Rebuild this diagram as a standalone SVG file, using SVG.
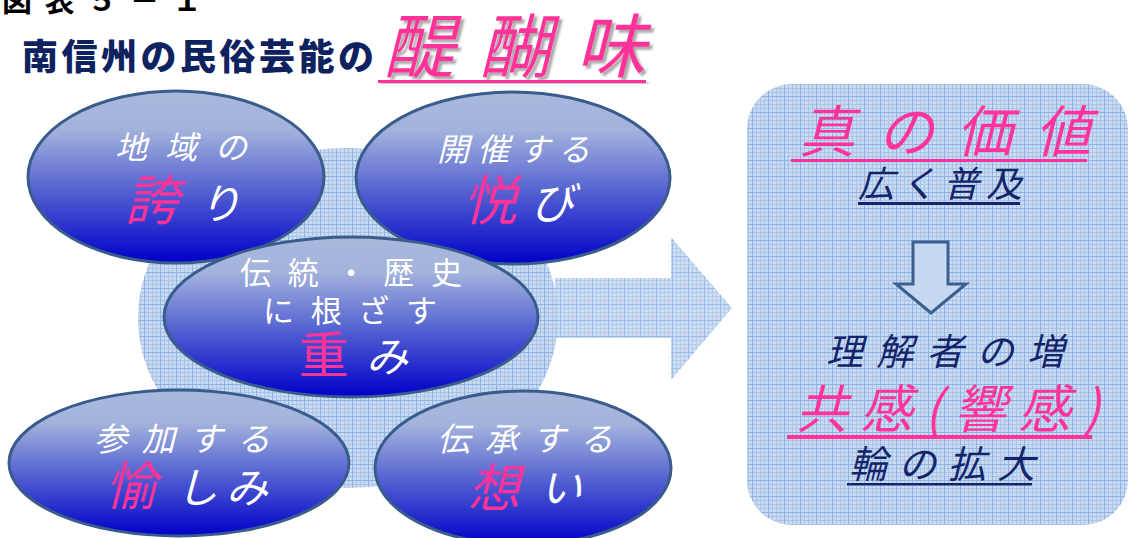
<svg xmlns="http://www.w3.org/2000/svg" width="1128" height="538" viewBox="0 0 1128 538">
<defs>
<pattern id="grid" width="16" height="16" patternUnits="userSpaceOnUse">
<rect width="16" height="16" fill="#c9dbf2"/>
<path d="M0 4.5H16M0 8.5H16M0 12.5H16M4.5 0V16M8.5 0V16M12.5 0V16" stroke="#a9c4e9" stroke-width="1"/>
<path d="M0 0.5H16M0.5 0V16" stroke="#90b2e1" stroke-width="1"/>
</pattern>
<linearGradient id="ovalGrad" x1="0" y1="0" x2="0" y2="1">
<stop offset="0" stop-color="#a9b9dc"/>
<stop offset="0.22" stop-color="#a3b3dc"/>
<stop offset="0.55" stop-color="#5a68d2"/>
<stop offset="1" stop-color="#0000c8"/>
</linearGradient>
<filter id="shadow" x="-10%" y="-20%" width="130%" height="150%">
<feDropShadow dx="3" dy="3" stdDeviation="1.2" flood-color="#555" flood-opacity="0.5"/>
</filter>
<style>
.oval{fill:url(#ovalGrad);stroke:#3a5c8c;stroke-width:3}
.jp{font-family:"Noto Sans CJK JP","Noto Sans CJK SC",sans-serif}
.wt{fill:#ffffff}
.pk{fill:#ff3399}
.nv{fill:#14246a}
.it{font-style:italic}
.pat{fill:url(#grid)}
</style>
</defs>

<g id="header">
<text class="jp" x="2" y="11" font-size="30" font-weight="700" fill="#000" textLength="200" lengthAdjust="spacing">図表５－１</text>
</g>

<g id="title">
<text class="jp" x="22" y="70" font-size="36" font-weight="900" fill="#0e2260" stroke="#ffffff" stroke-width="1.5" paint-order="stroke" textLength="352" lengthAdjust="spacing">南信州の民俗芸能の</text>
<text class="jp it pk" x="384" y="72" font-size="70" filter="url(#shadow)" textLength="262" lengthAdjust="spacing">醍醐味</text>
<rect x="378" y="80" width="268" height="3" fill="#ff3399" filter="url(#shadow)"/>
</g>

<g id="background-circle">
<ellipse class="pat" cx="348" cy="318" rx="210" ry="170"/>
</g>

<g id="node-pride">
<ellipse class="oval" cx="176" cy="177" rx="148" ry="86"/>
<text class="jp it wt" x="115" y="159" font-size="32" textLength="132" lengthAdjust="spacing">地域の</text>
<text class="jp it pk" x="125" y="220" font-size="54">誇</text>
<text class="jp it wt" x="199" y="219" font-size="42">り</text>
</g>

<g id="node-joy">
<ellipse class="oval" cx="513" cy="178" rx="157" ry="86"/>
<text class="jp it wt" x="437" y="161" font-size="32" textLength="153" lengthAdjust="spacing">開催する</text>
<text class="jp it pk" x="463" y="220" font-size="54">悦</text>
<text class="jp it wt" x="530" y="219" font-size="44">び</text>
</g>

<g id="node-weight">
<ellipse class="oval" cx="351" cy="317" rx="187" ry="80"/>
<text class="jp wt" x="240" y="284" font-size="31" textLength="222" lengthAdjust="spacing">伝統・歴史</text>
<text class="jp wt" x="263" y="322" font-size="31" textLength="174" lengthAdjust="spacing">に根ざす</text>
<text class="jp pk" x="299" y="373" font-size="50">重</text>
<text class="jp it wt" x="366" y="372" font-size="42">み</text>
</g>

<g id="node-fun">
<ellipse class="oval" cx="179" cy="463" rx="170" ry="73"/>
<text class="jp it wt" x="94" y="451" font-size="33" textLength="176" lengthAdjust="spacing">参加する</text>
<text class="jp it pk" x="105" y="505" font-size="52">愉</text>
<text class="jp it wt" x="176" y="503" font-size="42" textLength="92" lengthAdjust="spacing">しみ</text>
</g>

<g id="node-thought">
<ellipse class="oval" cx="523" cy="468" rx="148" ry="77"/>
<text class="jp it wt" x="437" y="451" font-size="33" textLength="176" lengthAdjust="spacing">伝承する</text>
<text class="jp it pk" x="468" y="507" font-size="52">想</text>
<text class="jp it wt" x="540" y="503" font-size="42">い</text>
</g>

<g id="node-value">
<rect class="pat" x="747" y="84" width="381" height="441" rx="45" ry="45"/>
<text class="jp it pk" x="799" y="152" font-size="56" textLength="292" lengthAdjust="spacing">真の価値</text>
<rect x="791" y="159" width="296" height="3" fill="#ff3399"/>
<text class="jp it nv" x="858" y="197" font-size="36" textLength="164" lengthAdjust="spacing">広く普及</text>
<rect x="858" y="202" width="162" height="3" fill="#14246a"/>
<text class="jp it nv" x="826" y="365" font-size="37" textLength="238" lengthAdjust="spacing">理解者の増</text>
<text class="jp it pk" x="796" y="428" font-size="52" textLength="304" lengthAdjust="spacing">共感(響感)</text>
<rect x="787" y="435" width="305" height="4" fill="#ff3399"/>
<text class="jp it nv" x="849" y="478" font-size="38" textLength="186" lengthAdjust="spacing">輪の拡大</text>
<rect x="847" y="483" width="185" height="2.5" fill="#14246a"/>
</g>

<g id="connectors">
<path class="pat" opacity="0.9" d="M555 278H671V237L732 308L671 380V338H555Z"/>
<path d="M913 242H948V284H966L931 313L896 284H913Z" fill="#c6d9f1" stroke="#3b5f8f" stroke-width="3" stroke-linejoin="miter"/>
</g>
</svg>
